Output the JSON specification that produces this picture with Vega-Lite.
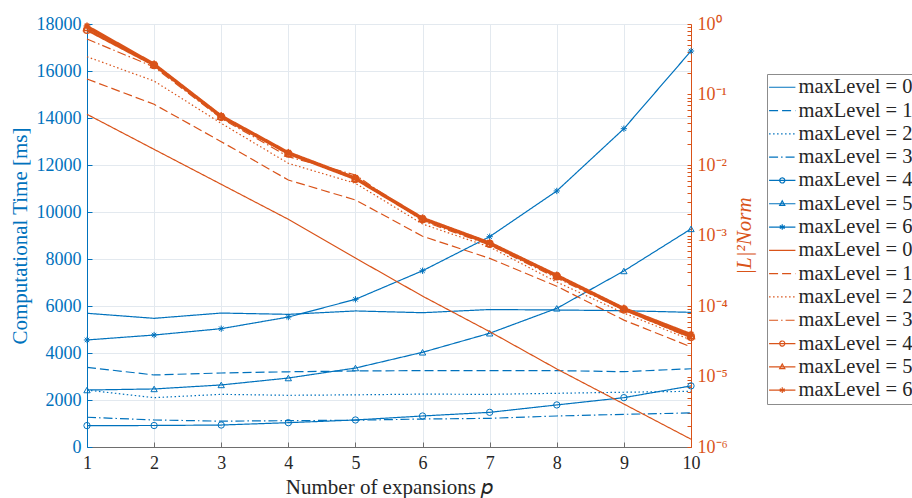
{
  "$schema": "https://vega.github.io/schema/vega-lite/v6.json",
  "width": 604,
  "height": 423,
  "autosize": {"type": "none"},
  "padding": {"left": 87, "top": 24, "right": 221, "bottom": 51},
  "background": "white",
  "config": {
    "view": {"stroke": null},
    "font": "Times New Roman, Liberation Serif, serif",
    "axis": {
      "labelFont": "Times New Roman, Liberation Serif, serif",
      "titleFont": "Times New Roman, Liberation Serif, serif",
      "titleFontWeight": "normal",
      "labelFontSize": 18,
      "titleFontSize": 21,
      "gridColor": "#e3e9ef",
      "gridWidth": 1,
      "tickSize": -5,
      "tickWidth": 1,
      "domainWidth": 1,
      "labelOverlap": false,
      "labelFlush": false,
      "labelBound": false
    },
    "legend": {
      "labelFont": "Times New Roman, Liberation Serif, serif",
      "labelFontSize": 20.5,
      "labelColor": "#262626",
      "symbolSize": 289,
      "symbolStrokeWidth": 1.2,
      "rowPadding": 2.3,
      "padding": 3,
      "strokeColor": "#8c8c8c",
      "fillColor": "white",
      "symbolOffset": 2,
      "labelOffset": 6,
      "labelLimit": 0
    }
  },
  "data": {
    "values": [
      {"p": 1, "s": "T0", "v": 5690}, {"p": 2, "s": "T0", "v": 5475}, {"p": 3, "s": "T0", "v": 5700}, {"p": 4, "s": "T0", "v": 5645}, {"p": 5, "s": "T0", "v": 5790},
      {"p": 6, "s": "T0", "v": 5715}, {"p": 7, "s": "T0", "v": 5850}, {"p": 8, "s": "T0", "v": 5830}, {"p": 9, "s": "T0", "v": 5800}, {"p": 10, "s": "T0", "v": 5730},
      {"p": 1, "s": "T1", "v": 3390}, {"p": 2, "s": "T1", "v": 3065}, {"p": 3, "s": "T1", "v": 3150}, {"p": 4, "s": "T1", "v": 3200}, {"p": 5, "s": "T1", "v": 3235},
      {"p": 6, "s": "T1", "v": 3250}, {"p": 7, "s": "T1", "v": 3250}, {"p": 8, "s": "T1", "v": 3250}, {"p": 9, "s": "T1", "v": 3205}, {"p": 10, "s": "T1", "v": 3330},
      {"p": 1, "s": "T2", "v": 2420}, {"p": 2, "s": "T2", "v": 2100}, {"p": 3, "s": "T2", "v": 2240}, {"p": 4, "s": "T2", "v": 2200}, {"p": 5, "s": "T2", "v": 2220},
      {"p": 6, "s": "T2", "v": 2250}, {"p": 7, "s": "T2", "v": 2240}, {"p": 8, "s": "T2", "v": 2285}, {"p": 9, "s": "T2", "v": 2330}, {"p": 10, "s": "T2", "v": 2370},
      {"p": 1, "s": "T3", "v": 1265}, {"p": 2, "s": "T3", "v": 1150}, {"p": 3, "s": "T3", "v": 1100}, {"p": 4, "s": "T3", "v": 1120}, {"p": 5, "s": "T3", "v": 1140},
      {"p": 6, "s": "T3", "v": 1190}, {"p": 7, "s": "T3", "v": 1220}, {"p": 8, "s": "T3", "v": 1320}, {"p": 9, "s": "T3", "v": 1390}, {"p": 10, "s": "T3", "v": 1450},
      {"p": 1, "s": "T4", "v": 910}, {"p": 2, "s": "T4", "v": 915}, {"p": 3, "s": "T4", "v": 935}, {"p": 4, "s": "T4", "v": 1035}, {"p": 5, "s": "T4", "v": 1150},
      {"p": 6, "s": "T4", "v": 1320}, {"p": 7, "s": "T4", "v": 1475}, {"p": 8, "s": "T4", "v": 1790}, {"p": 9, "s": "T4", "v": 2100}, {"p": 10, "s": "T4", "v": 2600},
      {"p": 1, "s": "T5", "v": 2425}, {"p": 2, "s": "T5", "v": 2470}, {"p": 3, "s": "T5", "v": 2640}, {"p": 4, "s": "T5", "v": 2935}, {"p": 5, "s": "T5", "v": 3360},
      {"p": 6, "s": "T5", "v": 4030}, {"p": 7, "s": "T5", "v": 4840}, {"p": 8, "s": "T5", "v": 5900}, {"p": 9, "s": "T5", "v": 7490}, {"p": 10, "s": "T5", "v": 9280},
      {"p": 1, "s": "T6", "v": 4555}, {"p": 2, "s": "T6", "v": 4765}, {"p": 3, "s": "T6", "v": 5035}, {"p": 4, "s": "T6", "v": 5530}, {"p": 5, "s": "T6", "v": 6285},
      {"p": 6, "s": "T6", "v": 7500}, {"p": 7, "s": "T6", "v": 8950}, {"p": 8, "s": "T6", "v": 10895}, {"p": 9, "s": "T6", "v": 13545}, {"p": 10, "s": "T6", "v": 16850},
      {"p": 1, "s": "E0", "v": 0.0524}, {"p": 2, "s": "E0", "v": 0.01667}, {"p": 3, "s": "E0", "v": 0.005321}, {"p": 4, "s": "E0", "v": 0.001698}, {"p": 5, "s": "E0", "v": 0.000479},
      {"p": 6, "s": "E0", "v": 0.000138}, {"p": 7, "s": "E0", "v": 0.0000433}, {"p": 8, "s": "E0", "v": 0.0000128}, {"p": 9, "s": "E0", "v": 0.00000407}, {"p": 10, "s": "E0", "v": 0.00000129},
      {"p": 1, "s": "E1", "v": 0.166}, {"p": 2, "s": "E1", "v": 0.0726}, {"p": 3, "s": "E1", "v": 0.02143}, {"p": 4, "s": "E1", "v": 0.006124}, {"p": 5, "s": "E1", "v": 0.003192},
      {"p": 6, "s": "E1", "v": 0.000977}, {"p": 7, "s": "E1", "v": 0.000474}, {"p": 8, "s": "E1", "v": 0.0001905}, {"p": 9, "s": "E1", "v": 0.0000631}, {"p": 10, "s": "E1", "v": 0.0000263},
      {"p": 1, "s": "E2", "v": 0.3436}, {"p": 2, "s": "E2", "v": 0.1552}, {"p": 3, "s": "E2", "v": 0.03899}, {"p": 4, "s": "E2", "v": 0.01057}, {"p": 5, "s": "E2", "v": 0.005495},
      {"p": 6, "s": "E2", "v": 0.001455}, {"p": 7, "s": "E2", "v": 0.000687}, {"p": 8, "s": "E2", "v": 0.0002188}, {"p": 9, "s": "E2", "v": 0.0000794}, {"p": 10, "s": "E2", "v": 0.000033},
      {"p": 1, "s": "E3", "v": 0.6124}, {"p": 2, "s": "E3", "v": 0.2455}, {"p": 3, "s": "E3", "v": 0.04592}, {"p": 4, "s": "E3", "v": 0.01312}, {"p": 5, "s": "E3", "v": 0.00721},
      {"p": 6, "s": "E3", "v": 0.001607}, {"p": 7, "s": "E3", "v": 0.000733}, {"p": 8, "s": "E3", "v": 0.0002495}, {"p": 9, "s": "E3", "v": 0.0000877}, {"p": 10, "s": "E3", "v": 0.0000352},
      {"p": 1, "s": "E4", "v": 0.8222}, {"p": 2, "s": "E4", "v": 0.26}, {"p": 3, "s": "E4", "v": 0.04786}, {"p": 4, "s": "E4", "v": 0.01445}, {"p": 5, "s": "E4", "v": 0.00631},
      {"p": 6, "s": "E4", "v": 0.001698}, {"p": 7, "s": "E4", "v": 0.000759}, {"p": 8, "s": "E4", "v": 0.000263}, {"p": 9, "s": "E4", "v": 0.0000891}, {"p": 10, "s": "E4", "v": 0.0000363},
      {"p": 1, "s": "E5", "v": 0.8913}, {"p": 2, "s": "E5", "v": 0.2661}, {"p": 3, "s": "E5", "v": 0.049}, {"p": 4, "s": "E5", "v": 0.01479}, {"p": 5, "s": "E5", "v": 0.006457},
      {"p": 6, "s": "E5", "v": 0.001738}, {"p": 7, "s": "E5", "v": 0.000776}, {"p": 8, "s": "E5", "v": 0.0002692}, {"p": 9, "s": "E5", "v": 0.0000912}, {"p": 10, "s": "E5", "v": 0.000038},
      {"p": 1, "s": "E6", "v": 0.9376}, {"p": 2, "s": "E6", "v": 0.2723}, {"p": 3, "s": "E6", "v": 0.0501}, {"p": 4, "s": "E6", "v": 0.01514}, {"p": 5, "s": "E6", "v": 0.006607},
      {"p": 6, "s": "E6", "v": 0.001778}, {"p": 7, "s": "E6", "v": 0.000794}, {"p": 8, "s": "E6", "v": 0.0002754}, {"p": 9, "s": "E6", "v": 0.0000933}, {"p": 10, "s": "E6", "v": 0.0000398}
    ]
  },
  "encoding": {
    "x": {
      "field": "p",
      "type": "quantitative",
      "scale": {"domain": [1, 10], "nice": false},
      "axis": {
        "values": [1, 2, 3, 4, 5, 6, 7, 8, 9, 10],
        "format": "d",
        "title": "Number of expansions 𝑝",
        "labelColor": "#262626",
        "titleColor": "#262626",
        "domainColor": "#6e6e6e",
        "tickColor": "#6e6e6e",
        "labelPadding": 12,
        "titlePadding": 4
      }
    }
  },
  "layer": [
    {
      "transform": [{"filter": "substring(datum.s, 0, 1) == 'T'"}],
      "encoding": {
        "y": {
          "field": "v",
          "type": "quantitative",
          "scale": {"domain": [0, 18000], "nice": false},
          "axis": {
            "orient": "left",
            "title": "Computational Time [ms]",
            "values": [0, 2000, 4000, 6000, 8000, 10000, 12000, 14000, 16000, 18000],
            "format": "d",
            "labelColor": "#0072BD",
            "titleColor": "#0072BD",
            "domainColor": "#0072BD",
            "tickColor": "#0072BD",
            "labelPadding": 11,
            "titlePadding": 6
          }
        }
      },
      "layer": [
        {
          "mark": {"type": "line", "strokeWidth": 1.2},
          "encoding": {
            "color": {
              "field": "s", "type": "nominal",
              "scale": {
                "domain": ["T0", "T1", "T2", "T3", "T4", "T5", "T6", "E0", "E1", "E2", "E3", "E4", "E5", "E6"],
                "range": ["#0072BD", "#0072BD", "#0072BD", "#0072BD", "#0072BD", "#0072BD", "#0072BD", "#D95319", "#D95319", "#D95319", "#D95319", "#D95319", "#D95319", "#D95319"]
              },
              "legend": {
                "title": null, "orient": "none", "legendX": 680, "legendY": 50,
                "labelExpr": "'maxLevel = ' + substring(datum.value, 1)",
                "encoding": {
                  "symbols": {
                    "shape": {"value": {"expr": "substring(datum.value,1) == '4' ? 'M-1.55,0L1.55,0M0.3,0A0.3,0.3 0 1,1 -0.3,0A0.3,0.3 0 1,1 0.3,0' : substring(datum.value,1) == '5' ? 'M-1.55,0L1.55,0M0,-0.34L0.3,0.2L-0.3,0.2Z' : substring(datum.value,1) == '6' ? 'M-1.55,0L1.55,0M0,-0.33L0,0.33M-0.29,-0.17L0.29,0.17M-0.29,0.17L0.29,-0.17' : 'M-1.55,0L1.55,0'"}},
                    "fill": {"value": "transparent"},
                    "strokeWidth": {"value": 1.2}
                  }
                }
              }
            },
            "strokeDash": {
              "field": "s", "type": "nominal",
              "scale": {
                "domain": ["T0", "T1", "T2", "T3", "T4", "T5", "T6", "E0", "E1", "E2", "E3", "E4", "E5", "E6"],
                "range": [[1, 0], [9, 4], [1.5, 2.5], [9, 3, 1.5, 3], [1, 0], [1, 0], [1, 0], [1, 0], [9, 4], [1.5, 2.5], [9, 3, 1.5, 3], [1, 0], [1, 0], [1, 0]]
              },
              "legend": {
                "title": null, "orient": "none", "legendX": 680, "legendY": 50,
                "labelExpr": "'maxLevel = ' + substring(datum.value, 1)"
              }
            }
          }
        },
        {
          "transform": [{"filter": "indexof(['T4', 'T5', 'T6'], datum.s) >= 0"}],
          "mark": {"type": "point", "filled": false, "color": "#0072BD", "strokeWidth": 1, "size": 40, "opacity": 1},
          "encoding": {
            "shape": {
              "field": "s", "type": "nominal",
              "scale": {
                "domain": ["T4", "T5", "T6", "E4", "E5", "E6"],
                "range": ["circle", "triangle-up", "M0,-1L0,1M-1,0L1,0M-0.7,-0.7L0.7,0.7M-0.7,0.7L0.7,-0.7", "circle", "triangle-up", "M0,-1L0,1M-1,0L1,0M-0.7,-0.7L0.7,0.7M-0.7,0.7L0.7,-0.7"]
              },
              "legend": null
            }
          }
        }
      ]
    },
    {
      "transform": [{"filter": "substring(datum.s, 0, 1) == 'E'"}],
      "encoding": {
        "y": {
          "field": "v",
          "type": "quantitative",
          "scale": {"type": "log", "domain": [0.000001, 1], "nice": false},
          "axis": {
            "orient": "right",
            "title": "|L|²Norm",
            "titleFontStyle": "italic",
            "titleAngle": 270,
            "tickCount": 30,
            "grid": false,
            "labelExpr": "abs(log(datum.value)/LN10 - round(log(datum.value)/LN10)) < 0.0001 ? '10' + ['⁰','⁻¹','⁻²','⁻³','⁻⁴','⁻⁵','⁻⁶'][abs(round(log(datum.value)/LN10))] : ''",
            "labelColor": "#D95319",
            "titleColor": "#D95319",
            "domainColor": "#D95319",
            "tickColor": "#D95319",
            "tickSize": -4,
            "labelPadding": 10,
            "titlePadding": 27
          }
        }
      },
      "layer": [
        {
          "transform": [{"filter": "indexof(['E0', 'E1', 'E2', 'E3'], datum.s) >= 0"}],
          "mark": {"type": "line", "strokeWidth": 1.2},
          "encoding": {
            "color": {
              "field": "s", "type": "nominal",
              "legend": {
                "title": null, "orient": "none", "legendX": 680, "legendY": 50,
                "labelExpr": "'maxLevel = ' + substring(datum.value, 1)"
              }
            },
            "strokeDash": {
              "field": "s", "type": "nominal",
              "legend": {
                "title": null, "orient": "none", "legendX": 680, "legendY": 50,
                "labelExpr": "'maxLevel = ' + substring(datum.value, 1)"
              }
            }
          }
        },
        {
          "transform": [{"filter": "indexof(['E4', 'E5', 'E6'], datum.s) >= 0"}],
          "mark": {"type": "line", "strokeWidth": 2.4},
          "encoding": {
            "color": {
              "field": "s", "type": "nominal",
              "legend": {
                "title": null, "orient": "none", "legendX": 680, "legendY": 50,
                "labelExpr": "'maxLevel = ' + substring(datum.value, 1)"
              }
            },
            "strokeDash": {
              "field": "s", "type": "nominal",
              "legend": {
                "title": null, "orient": "none", "legendX": 680, "legendY": 50,
                "labelExpr": "'maxLevel = ' + substring(datum.value, 1)"
              }
            }
          }
        },
        {
          "transform": [{"filter": "indexof(['E4', 'E5', 'E6'], datum.s) >= 0"}],
          "mark": {"type": "point", "filled": false, "color": "#D95319", "strokeWidth": 1.5, "size": 45, "opacity": 1},
          "encoding": {
            "shape": {
              "field": "s", "type": "nominal",
              "scale": {
                "domain": ["T4", "T5", "T6", "E4", "E5", "E6"],
                "range": ["circle", "triangle-up", "M0,-1L0,1M-1,0L1,0M-0.7,-0.7L0.7,0.7M-0.7,0.7L0.7,-0.7", "circle", "triangle-up", "M0,-1L0,1M-1,0L1,0M-0.7,-0.7L0.7,0.7M-0.7,0.7L0.7,-0.7"]
              },
              "legend": null
            }
          }
        }
      ]
    }
  ],
  "resolve": {"scale": {"y": "independent"}}
}
